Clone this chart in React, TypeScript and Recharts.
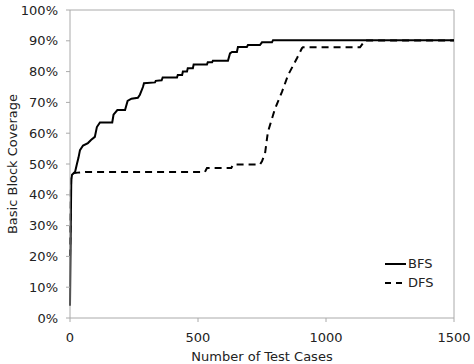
import React from "react";
import {
  Legend,
  Line,
  LineChart,
  ReferenceLine,
  XAxis,
  YAxis,
} from "recharts";

// test cases vs. basic block coverage (%)
const bfsCases = [
  0, 3, 5, 8, 20, 27, 33, 39, 51, 70, 82, 97, 105, 117, 165, 170, 185, 215,
  225, 240, 265, 273, 285, 289, 332, 335, 358, 362, 418, 421, 438, 441, 457,
  460, 480, 483, 535, 538, 555, 558, 617, 625, 633, 652, 656, 691, 695, 742,
  750, 789, 793, 1500,
];
const bfsCoverage = [
  4, 30, 45, 46.5, 47.5, 50, 52, 54.5, 56, 56.8, 57.8, 58.8, 62, 63.5, 63.5,
  66, 67.5, 67.5, 70.5, 71.2, 71.5, 72.5, 75, 76.2, 76.5, 77, 77.2, 78.1, 78.1,
  78.9, 78.9, 80, 80, 81.1, 81.1, 82.3, 82.3, 83, 83, 83.5, 83.5, 85.9, 86.4,
  86.4, 88, 88, 88.6, 88.6, 89.5, 89.5, 90.2, 90.2,
];

const dfsCases = [
  0, 3, 5, 10, 30, 60, 527, 535, 630, 637, 742, 750, 762, 773, 801, 828, 852,
  887, 906, 910, 1133, 1152, 1500,
];
const dfsCoverage = [
  20, 40, 46, 47, 47.2, 47.4, 47.4, 48.7, 48.7, 49.8, 49.8, 50.9, 53.5, 60.4,
  68, 73.4, 78.9, 84.4, 87.6, 87.9, 87.9, 90.1, 90.1,
];

const xTicks = [0, 500, 1000, 1500];
const yTicks = [0, 10, 20, 30, 40, 50, 60, 70, 80, 90, 100];

const bfsData = bfsCases.map((x, i) => ({ x, y: bfsCoverage[i] }));
const dfsData = dfsCases.map((x, i) => ({ x, y: dfsCoverage[i] }));

const FONT = "'DejaVu Sans', Verdana, sans-serif";
const GREY = "#aaa";
const TEXT = "#222";

const LegendBox = () => (
  <div style={{ fontFamily: FONT, fontSize: 13, color: TEXT }}>
    {[
      { name: "BFS", dash: undefined },
      { name: "DFS", dash: "6 5" },
    ].map((s) => (
      <div
        key={s.name}
        style={{ display: "flex", alignItems: "center", height: 19 }}
      >
        <svg width={21} height={4} style={{ marginRight: 2 }}>
          <line
            x1={0}
            y1={2}
            x2={21}
            y2={2}
            stroke="#000"
            strokeWidth={2}
            strokeDasharray={s.dash}
          />
        </svg>
        <span>{s.name}</span>
      </div>
    ))}
  </div>
);

export default function App() {
  return (
    <div style={{ position: "absolute", left: 0, top: 0 }}>
      <LineChart
        width={474}
        height={364}
        margin={{ top: 10, right: 20, bottom: 16, left: 0 }}
      >
        <XAxis
          type="number"
          dataKey="x"
          domain={[0, 1500]}
          ticks={xTicks}
          allowDuplicatedCategory={false}
          height={30}
          stroke={GREY}
          tickSize={4}
          tickMargin={11}
          tick={{ fill: TEXT, fontSize: 13, fontFamily: FONT }}
          label={{
            value: "Number of Test Cases",
            position: "bottom",
            offset: 4,
            style: { fill: TEXT, fontSize: 13, fontFamily: FONT },
          }}
        />
        <YAxis
          type="number"
          domain={[0, 100]}
          ticks={yTicks}
          width={70}
          stroke={GREY}
          tickSize={4}
          tickMargin={8}
          tickFormatter={(v: number) => `${v}%`}
          tick={{ fill: TEXT, fontSize: 13, fontFamily: FONT }}
          label={{
            value: "Basic Block Coverage",
            angle: -90,
            position: "insideLeft",
            offset: 12,
            style: {
              fill: TEXT,
              fontSize: 13,
              fontFamily: FONT,
              textAnchor: "middle",
            },
          }}
        />
        <ReferenceLine y={100} stroke={GREY} />
        <ReferenceLine x={1500} stroke={GREY} />
        <Line
          data={bfsData}
          dataKey="y"
          name="BFS"
          type="linear"
          stroke="#000"
          strokeWidth={2}
          dot={false}
          isAnimationActive={false}
        />
        <Line
          data={dfsData}
          dataKey="y"
          name="DFS"
          type="linear"
          stroke="#000"
          strokeWidth={2}
          strokeDasharray="7 5"
          dot={false}
          isAnimationActive={false}
        />
        <Legend
          layout="vertical"
          align="center"
          verticalAlign="middle"
          content={<LegendBox />}
          wrapperStyle={{ position: "absolute", left: 385, top: 254, width: 60 }}
        />
      </LineChart>
    </div>
  );
}
